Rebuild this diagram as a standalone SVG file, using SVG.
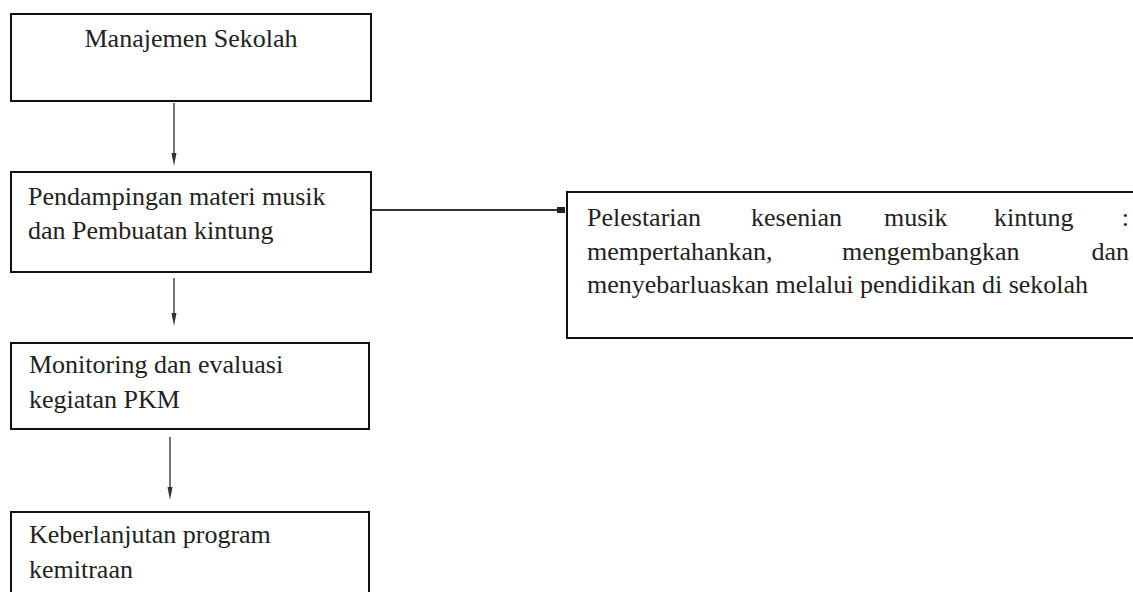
<svg xmlns="http://www.w3.org/2000/svg" width="1133" height="592" viewBox="0 0 1133 592">
<style>
.box{fill:#fff;stroke:#111;stroke-width:2}
.t{font-family:"Liberation Serif","Times New Roman",serif;font-size:26px;fill:#222}
.v{stroke:#444;stroke-width:1.5;fill:none}
.h{stroke:#333;stroke-width:2.2;fill:none}
</style>
<defs>
<marker id="ah" markerWidth="6" markerHeight="12" refX="3" refY="12" orient="auto-start-reverse" markerUnits="userSpaceOnUse" viewBox="0 0 6 12">
<path d="M0,0 L6,0 L3,12 Z" fill="#222" transform="rotate(0)"/>
</marker>
<marker id="ahh" markerWidth="8" markerHeight="6" refX="8" refY="3" orient="auto" markerUnits="userSpaceOnUse" viewBox="0 0 8 6">
<rect x="0" y="0" width="8" height="6" fill="#222"/>
</marker>
</defs>
<rect width="1133" height="592" fill="#fff"/>
<g id="connectors">
<line class="v" x1="174" y1="103" x2="174" y2="154"/>
<path d="M171.5,153 L176.5,153 L174,166 Z" fill="#333"/>
<line class="v" x1="174" y1="278" x2="174" y2="314"/>
<path d="M171.5,313 L176.5,313 L174,326 Z" fill="#333"/>
<line class="v" x1="170" y1="437" x2="170" y2="488"/>
<path d="M167.5,487 L172.5,487 L170,500 Z" fill="#333"/>
<line class="h" x1="372" y1="210" x2="560" y2="210"/>
<rect x="557" y="207" width="8" height="6" fill="#222"/>
</g>
<g id="n1">
<rect class="box" x="11" y="14" width="360" height="87"/>
<text class="t" x="191" y="47" text-anchor="middle">Manajemen Sekolah</text>
</g>
<g id="n2">
<rect class="box" x="11" y="172" width="360" height="100"/>
<text class="t" x="28" y="205">Pendampingan materi musik</text>
<text class="t" x="28" y="239">dan Pembuatan kintung</text>
</g>
<g id="n3">
<rect class="box" x="11" y="343" width="358" height="86"/>
<text class="t" x="29" y="373">Monitoring dan evaluasi</text>
<text class="t" x="29" y="408">kegiatan PKM</text>
</g>
<g id="n4">
<rect class="box" x="11" y="512" width="358" height="100"/>
<text class="t" x="29" y="543">Keberlanjutan program</text>
<text class="t" x="29" y="578">kemitraan</text>
</g>
<g id="n5">
<rect class="box" x="567" y="192" width="580" height="146"/>
<text class="t" x="587" y="226">Pelestarian</text>
<text class="t" x="751" y="226">kesenian</text>
<text class="t" x="884" y="226">musik</text>
<text class="t" x="994" y="226">kintung</text>
<text class="t" x="1129" y="226" text-anchor="end">:</text>
<text class="t" x="587" y="260">mempertahankan,</text>
<text class="t" x="842" y="260">mengembangkan</text>
<text class="t" x="1129" y="260" text-anchor="end">dan</text>
<text class="t" x="587" y="293">menyebarluaskan melalui pendidikan di sekolah</text>
</g>
</svg>
